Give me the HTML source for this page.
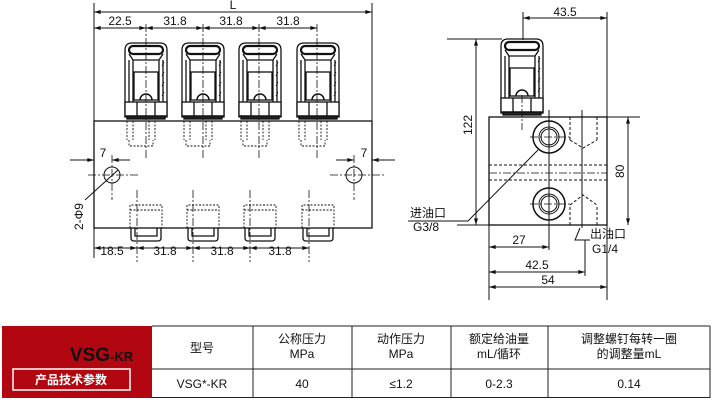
<!DOCTYPE html>
<html><head><meta charset="utf-8"><style>
body{margin:0;background:#fff;}
svg{display:block;font-family:"Liberation Sans","Noto Sans CJK SC",sans-serif;}
.t{font-size:12px;fill:#111;}
</style></head><body>
<svg width="716" height="402" viewBox="0 0 716 402" xmlns="http://www.w3.org/2000/svg">
<defs>
<marker id="a" viewBox="0 0 10 6" refX="10" refY="3" markerWidth="8" markerHeight="4" orient="auto-start-reverse"><path d="M0,0L10,3L0,6z" fill="#111"/></marker>
<g id="cap" stroke="#111" fill="none" stroke-width="1.3">
<path d="M-21,117V50Q-21,43 -14,43H14Q21,43 21,50V117Z" fill="#fff"/>
<rect x="-17" y="46" width="34" height="8" rx="4" stroke-width="2.2"/>
<path d="M-17,54L-13,60H13L17,54"/>
<path d="M-17,60V102M17,60V102M-13,60V102M13,60V102"/>
<rect x="-12" y="72" width="24" height="28"/>
<path d="M-6,100A6,6 0 0 1 6,100" stroke-width="1.5"/>
<rect x="-21" y="102" width="42" height="14" fill="#fff"/>
<path d="M-9,102V116M9,102V116"/>
<rect x="-19" y="116" width="38" height="3" fill="#222"/>
<path d="M16,66l2,-4M16,76l2,-4M16,86l2,-4M16,96l2,-4" stroke-width="0.8"/>
</g>
<g id="top" stroke="#111" fill="none" stroke-width="0.9" stroke-dasharray="2,1.5">
<path d="M-14,121V140M14,121V140M-8,121V140M8,121V140M-12,140V146H12V140"/>
</g>
<g id="bot" stroke="#111" fill="none">
<path d="M-16,228V205H16V228M-16,210H16" stroke-dasharray="2,1.5" stroke-width="0.9"/>
<path d="M-15,228V238Q-15,241 -12,241H12Q15,241 15,238V228" stroke-width="1.3"/>
<path d="M-11,228V236H11V228" stroke-width="1.3"/>
</g>
</defs>

<!-- FRONT VIEW -->
<g stroke="#111" stroke-width="1" fill="none">
<path d="M94,3V121M372,3V121M94,228V258"/>
<line x1="94" y1="12" x2="372" y2="12" marker-start="url(#a)" marker-end="url(#a)"/>
<line x1="94" y1="28" x2="146" y2="28" marker-start="url(#a)" marker-end="url(#a)"/>
<line x1="146" y1="28" x2="203" y2="28" marker-start="url(#a)" marker-end="url(#a)"/>
<line x1="203" y1="28" x2="259" y2="28" marker-start="url(#a)" marker-end="url(#a)"/>
<line x1="259" y1="28" x2="317" y2="28" marker-start="url(#a)" marker-end="url(#a)"/>
<rect x="94" y="121" width="278" height="107" stroke-width="1.3"/>
</g>
<use href="#cap" transform="translate(146,0)"/>
<use href="#cap" transform="translate(203,0)"/>
<use href="#cap" transform="translate(260,0)"/>
<use href="#cap" transform="translate(318,0)"/>
<use href="#top" transform="translate(141,0)"/>
<use href="#top" transform="translate(198,0)"/>
<use href="#top" transform="translate(255,0)"/>
<use href="#top" transform="translate(313,0)"/>
<use href="#bot" transform="translate(146,0)"/>
<use href="#bot" transform="translate(203,0)"/>
<use href="#bot" transform="translate(260,0)"/>
<use href="#bot" transform="translate(318,0)"/>
<g stroke="#111" stroke-width="0.8" fill="none" stroke-dasharray="8,2,2,2">
<path d="M146,24V160M203,24V160M259,24V160M317,24V160"/>
<path d="M137,190V262M193,190V262M250,190V262M309,190V262"/>
<path d="M88,175H140M330,175H385M112,155V200M354,155V200"/>
</g>
<g stroke="#111" stroke-width="1" fill="none">
<circle cx="112" cy="175" r="8"/><circle cx="354" cy="175" r="8"/>
<line x1="70" y1="160" x2="94" y2="160" marker-end="url(#a)"/>
<line x1="130" y1="160" x2="112" y2="160" marker-end="url(#a)"/>
<line x1="336" y1="160" x2="354" y2="160" marker-end="url(#a)"/>
<line x1="395" y1="160" x2="372" y2="160" marker-end="url(#a)"/>
<path d="M118,170L85,200"/>
<line x1="94" y1="248" x2="137" y2="248" marker-start="url(#a)" marker-end="url(#a)"/>
<line x1="137" y1="248" x2="193" y2="248" marker-start="url(#a)" marker-end="url(#a)"/>
<line x1="193" y1="248" x2="250" y2="248" marker-start="url(#a)" marker-end="url(#a)"/>
<line x1="250" y1="248" x2="309" y2="248" marker-start="url(#a)" marker-end="url(#a)"/>
</g>
<g class="t">
<text x="233" y="9" text-anchor="middle">L</text>
<text x="120" y="25" text-anchor="middle">22.5</text>
<text x="175" y="25" text-anchor="middle">31.8</text>
<text x="231" y="25" text-anchor="middle">31.8</text>
<text x="288" y="25" text-anchor="middle">31.8</text>
<text x="103" y="157" text-anchor="middle">7</text>
<text x="364" y="157" text-anchor="middle">7</text>
<text transform="translate(83,230) rotate(-90)">2-Φ9</text>
<text x="112" y="255" text-anchor="middle">18.5</text>
<text x="165" y="255" text-anchor="middle">31.8</text>
<text x="222" y="255" text-anchor="middle">31.8</text>
<text x="280" y="255" text-anchor="middle">31.8</text>
</g>

<!-- SIDE VIEW -->
<use href="#cap" transform="translate(522,-4)"/>
<g stroke="#111" stroke-width="1" fill="none">
<rect x="489" y="117" width="118" height="108" stroke-width="1.3"/>
<path d="M457,225H607M523,12V40M607,12V300M447,39H502M600,117H640M489,225V300M585,240V276"/>
<line x1="523" y1="18" x2="607" y2="18" marker-start="url(#a)" marker-end="url(#a)"/>
<line x1="476" y1="39" x2="476" y2="225" marker-start="url(#a)" marker-end="url(#a)"/>
<line x1="628" y1="117" x2="628" y2="225" marker-start="url(#a)" marker-end="url(#a)"/>
<line x1="489" y1="247" x2="549" y2="247" marker-start="url(#a)" marker-end="url(#a)"/>
<line x1="489" y1="272" x2="585" y2="272" marker-start="url(#a)" marker-end="url(#a)"/>
<line x1="489" y1="287" x2="607" y2="287" marker-start="url(#a)" marker-end="url(#a)"/>
<circle cx="549" cy="137" r="16" stroke-width="1.5"/><circle cx="549" cy="137" r="10"/><circle cx="549" cy="137" r="8"/>
<circle cx="549" cy="204" r="16" stroke-width="1.5"/><circle cx="549" cy="204" r="10"/><circle cx="549" cy="204" r="8"/>
<path d="M549,110V250M582,110V228"/>
<path d="M489,165H607M489,180H607M570,117V140M597,117V140M570,140L583,148L597,140M570,225V205M597,225V205M570,205L583,195L597,205" stroke-dasharray="3,2"/>
<path d="M489,173H607M522,95V130M530,137H570M530,204H570" stroke-dasharray="8,2,2,2" stroke-width="0.8"/>
<path d="M408,221H468L538,150M590,240H575L580,228"/>
</g>
<g class="t">
<text x="565" y="16" text-anchor="middle">43.5</text>
<text transform="translate(472,135) rotate(-90)">122</text>
<text transform="translate(624,178) rotate(-90)">80</text>
<text x="519" y="244" text-anchor="middle">27</text>
<text x="537" y="269" text-anchor="middle">42.5</text>
<text x="548" y="284" text-anchor="middle">54</text>
<text x="410" y="217">进油口</text>
<text x="413" y="231">G3/8</text>
<text x="590" y="238">出油口</text>
<text x="592" y="253">G1/4</text>
</g>

<!-- TABLE -->
<rect x="2" y="326" width="150" height="72" fill="#b20710"/>
<text x="110" y="361" text-anchor="end" font-weight="bold" font-size="19" fill="#111">VSG</text>
<text x="110" y="361" font-weight="bold" font-size="13" fill="#111">-KR</text>
<rect x="13" y="369" width="117" height="21" fill="none" stroke="#fff" stroke-width="1.5"/>
<text x="71" y="384" text-anchor="middle" font-size="12" font-weight="bold" fill="#fff">产品技术参数</text>
<g stroke="#222" stroke-width="1" fill="none">
<path d="M152,326H710M152,369H710M152,397.5H710M253,326V398M352,326V398M451,326V398M548,326V398M710,326V398"/>
</g>
<g class="t" text-anchor="middle" font-size="12">
<text x="202" y="352">型号</text>
<text x="302" y="343">公称压力</text><text x="302" y="358">MPa</text>
<text x="401" y="343">动作压力</text><text x="401" y="358">MPa</text>
<text x="499" y="343">额定给油量</text><text x="499" y="358">mL/循环</text>
<text x="629" y="343">调整螺钉每转一圈</text><text x="629" y="358">的调整量mL</text>
<text x="202" y="388">VSG*-KR</text>
<text x="302" y="388">40</text>
<text x="401" y="388">≤1.2</text>
<text x="499" y="388">0-2.3</text>
<text x="629" y="388">0.14</text>
</g>
</svg>
</body></html>
